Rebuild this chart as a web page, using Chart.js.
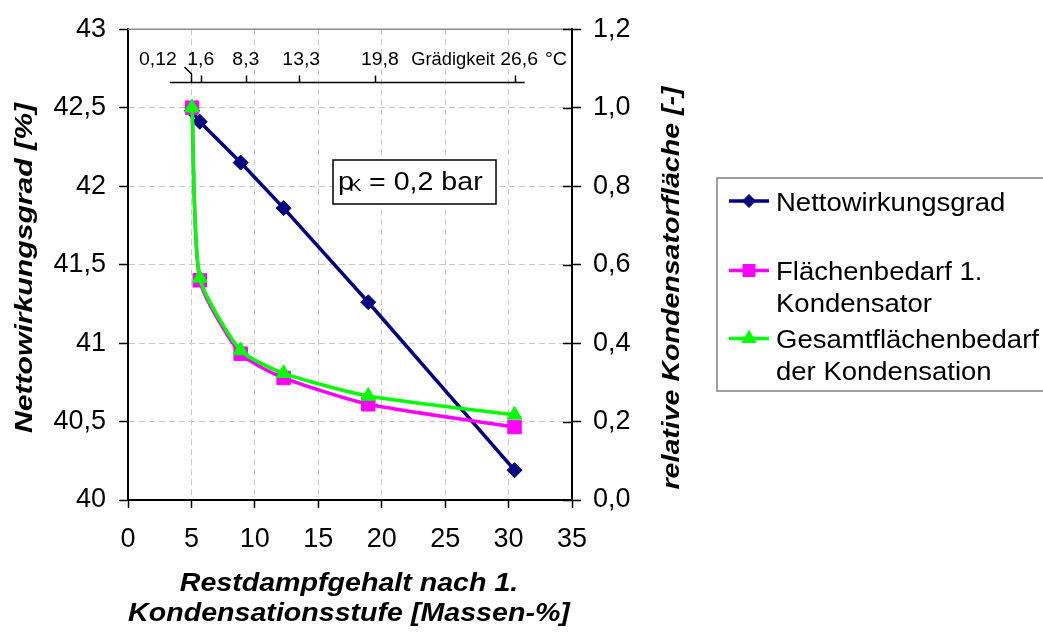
<!DOCTYPE html>
<html><head><meta charset="utf-8">
<script src="https://cdn.jsdelivr.net/npm/chart.js@4.4.0/dist/chart.umd.min.js"></script>
<style>html,body{margin:0;padding:0;background:#fff;overflow:hidden}canvas{display:block}</style>
</head><body>
<canvas id="c" width="1043" height="639"></canvas>
<script>
// ---- data ----
const restdampf = [5.05, 5.66, 8.88, 12.27, 18.94, 30.47];
const nettoWirkungsgrad = [42.48, 42.41, 42.15, 41.86, 41.26, 40.19];
const flaecheKondensator1 = [1.0, 0.56, 0.373, 0.311, 0.244, 0.186];
const flaecheGesamt = [1.0, 0.566, 0.381, 0.323, 0.265, 0.217];
const seriesNames = ['Nettowirkungsgrad', 'Flächenbedarf 1. Kondensator', 'Gesamtflächenbedarf der Kondensation'];
const xTickLabels = ['0','5','10','15','20','25','30','35'];
const yTickLabels = ['40','40,5','41','41,5','42','42,5','43'];
const y1TickLabels = ['0,0','0,2','0,4','0,6','0,8','1,0','1,2'];
const gradTickLabels = ['0,12','1,6','8,3','13,3','19,8','26,6'];
const gradTickValues = [5.0, 5.73, 9.33, 13.46, 19.5, 30.48];

const FONT = "'Liberation Sans', Arial, Helvetica, sans-serif";
Chart.defaults.font.family = FONT;
Chart.defaults.color = '#000';

function txt(ctx, s, x, y, font, align, sx, rot) {
  ctx.save();
  ctx.translate(x, y);
  if (rot) ctx.rotate(rot);
  ctx.scale(sx || 1, 1);
  ctx.font = font;
  ctx.textAlign = align || 'left';
  ctx.textBaseline = 'alphabetic';
  ctx.fillStyle = '#000';
  ctx.fillText(s, 0, 0);
  ctx.restore();
}
function fitRot(ctx, s, cx, cy, size, len) {
  ctx.save();
  ctx.font = 'italic bold ' + size + 'px ' + FONT;
  const w = ctx.measureText(s).width;
  ctx.translate(cx, cy);
  ctx.rotate(-Math.PI / 2);
  ctx.scale(len / w, 1);
  ctx.textAlign = 'center';
  ctx.textBaseline = 'alphabetic';
  ctx.fillStyle = '#000';
  ctx.fillText(s, 0, 0.26 * size);
  ctx.restore();
}

const colors = ['#000080', '#FF00FF', '#00FF00'];
const styles = ['rectRot', 'rect', 'triangle'];

const decor = {
  id: 'decor',
  beforeDatasetsDraw(chart) {
    const {ctx, chartArea: a} = chart;
    ctx.save();
    ctx.strokeStyle = '#8c8c8c';
    ctx.lineWidth = 1.5;
    ctx.beginPath(); ctx.moveTo(a.left, a.top); ctx.lineTo(a.right, a.top); ctx.stroke();
    const y1 = chart.scales.y1;
    ctx.strokeStyle = '#000'; ctx.lineWidth = 1.5;
    y1.ticks.forEach(t => {
      const py = Math.round(y1.getPixelForValue(t.value)) + 0.5;
      ctx.beginPath(); ctx.moveTo(a.right - 9, py); ctx.lineTo(a.right, py); ctx.stroke();
    });
    ctx.restore();
  },
  afterDraw(chart) {
    const {ctx} = chart;
    const xs = chart.scales.x;
    ctx.save();
    // ---- Grädigkeit axis ----
    const ay = 82.5;
    ctx.strokeStyle = '#000'; ctx.lineWidth = 1.5;
    ctx.beginPath(); ctx.moveTo(xs.getPixelForValue(3.29), ay); ctx.lineTo(xs.getPixelForValue(31.27), ay); ctx.stroke();
    gradTickValues.forEach((v, i) => {
      const px = Math.round(xs.getPixelForValue(v)) + 0.5;
      ctx.beginPath();
      if (i === 0) { ctx.moveTo(px - 7, 67); ctx.lineTo(px, 74); ctx.lineTo(px, ay); }
      else { ctx.moveTo(px, ay); ctx.lineTo(px, ay - 7); }
      ctx.stroke();
    });
    const labOff = [-33.5, 0, -0.5, 2.5, 4.5, 4.5];
    const f18 = '18px ' + FONT;
    gradTickValues.forEach((v, i) => {
      txt(ctx, gradTickLabels[i], xs.getPixelForValue(v) + labOff[i], 65, f18, 'center', 1.08);
    });
    txt(ctx, 'Grädigkeit', 453, 65, f18, 'center', 1.02);
    txt(ctx, '°C', 556, 65, f18, 'center', 1.1);

    // ---- pK box ----
    ctx.fillStyle = '#fff';
    ctx.fillRect(333, 160, 163, 44);
    ctx.strokeStyle = '#000'; ctx.lineWidth = 1.5;
    ctx.strokeRect(333, 160, 163, 44);
    const f26 = '26px ' + FONT;
    txt(ctx, 'p', 338, 190, f26, 'left', 1.1);
    txt(ctx, 'K', 349, 191, '17px ' + FONT, 'left', 1.1);
    txt(ctx, '= 0,2 bar', 369, 190, f26, 'left', 1.1);

    // ---- legend ----
    ctx.strokeStyle = '#808080'; ctx.lineWidth = 1.5;
    ctx.strokeRect(717, 178, 340, 213);
    const legY = [201, 270.5, 338.5];
    const legLines = [['Nettowirkungsgrad'], ['Flächenbedarf 1.', 'Kondensator'], ['Gesamtflächenbedarf', 'der Kondensation']];
    const legR = [6.5, 8.5, 8];
    const f25 = '25px ' + FONT;
    legY.forEach((y, i) => {
      ctx.strokeStyle = colors[i]; ctx.fillStyle = colors[i]; ctx.lineWidth = 3.5;
      ctx.beginPath(); ctx.moveTo(729, y); ctx.lineTo(769, y); ctx.stroke();
      ctx.lineWidth = 1;
      Chart.helpers.drawPoint(ctx, {pointStyle: styles[i], radius: legR[i], rotation: 0, borderWidth: 1}, 749, y);
      legLines[i].forEach((s, j) => txt(ctx, s, 776, y + 9.5 + j * 32, f25, 'left', 1.1));
    });

    // ---- axis titles ----
    const fb = 'italic bold 26px ' + FONT;
    txt(ctx, 'Restdampfgehalt nach 1.', 349, 591, fb, 'center', 1.1);
    txt(ctx, 'Kondensationsstufe [Massen-%]', 349, 621, fb, 'center', 1.1);
    fitRot(ctx, 'Nettowirkungsgrad [%]', 26, 268, 24, 330);
    fitRot(ctx, 'relative Kondensatorfläche [-]', 673, 288, 24, 403);
    ctx.restore();
  }
};

function ds(i, vals, axis, r, order, smooth) {
  return {
    label: seriesNames[i],
    data: restdampf.map((x, k) => ({x: x, y: vals[k]})),
    yAxisID: axis,
    borderColor: colors[i], backgroundColor: colors[i],
    pointBackgroundColor: colors[i], pointBorderColor: colors[i],
    borderWidth: 3.5, pointStyle: styles[i], pointRadius: r, pointBorderWidth: 1,
    tension: smooth ? 0.2 : 0,
    order: order, clip: false
  };
}

const tickFont = {size: 27, family: FONT};
new Chart(document.getElementById('c'), {
  type: 'line',
  data: {datasets: [
    ds(0, nettoWirkungsgrad, 'y', 7.5, 3, false),
    ds(1, flaecheKondensator1, 'y1', 9.5, 2, true),
    ds(2, flaecheGesamt, 'y1', 8.5, 1, true)
  ]},
  options: {
    responsive: false, animation: false, devicePixelRatio: 1,
    layout: {padding: {top: 18, left: 0, right: 411, bottom: 0}},
    plugins: {legend: {display: false}, tooltip: {enabled: false}},
    scales: {
      x: {
        type: 'linear', position: 'bottom', min: 0, max: 35,
        ticks: {stepSize: 5, font: tickFont, padding: 15, maxRotation: 0, autoSkip: false,
          callback: v => xTickLabels[Math.round(v / 5)]},
        grid: {color: '#c8c8c8', lineWidth: 1, tickColor: '#000', tickWidth: 1.5, tickLength: 8, tickBorderDash: []},
        border: {color: '#000', width: 2, dash: [6, 4]},
        afterFit: s => { s.height = 139; }
      },
      y: {
        position: 'left', min: 40, max: 43,
        ticks: {stepSize: 0.5, font: tickFont, padding: 13,
          callback: v => yTickLabels[Math.round((v - 40) * 2)]},
        grid: {color: '#c8c8c8', lineWidth: 1, tickColor: '#000', tickWidth: 1.5, tickLength: 9, tickBorderDash: []},
        border: {color: '#000', width: 2, dash: [6, 4]},
        afterFit: s => { s.width = 128; }
      },
      y1: {
        position: 'right', min: 0, max: 1.2,
        ticks: {stepSize: 0.2, font: tickFont, padding: 12,
          callback: v => y1TickLabels[Math.round(v * 5)]},
        grid: {drawOnChartArea: false, tickColor: '#000', tickWidth: 1.5, tickLength: 9},
        border: {color: '#000', width: 2},
        afterFit: s => { s.width = 60; }
      }
    }
  },
  plugins: [decor]
});
</script>
</body></html>
